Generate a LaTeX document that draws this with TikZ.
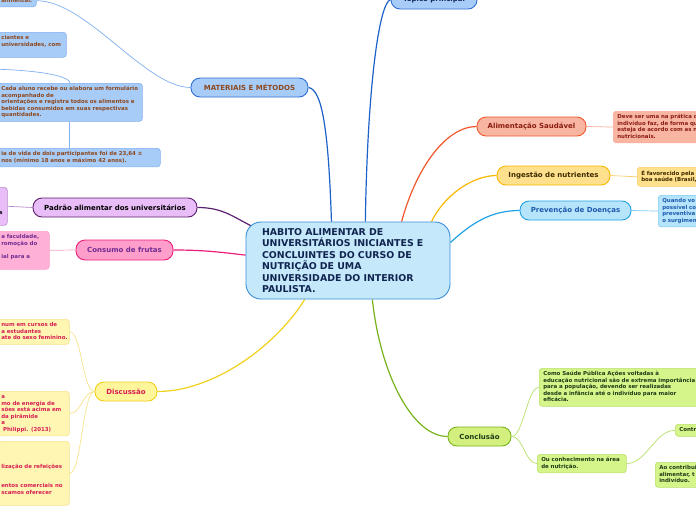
\documentclass[tikz,border=0pt]{standalone}
\usepackage{fontspec}
\setmainfont{DejaVu Sans}
\usetikzlibrary{calc,backgrounds}
% cores do mapa
\definecolor{azulF}{RGB}{168,204,248}
\definecolor{azulB}{RGB}{47,111,216}
\definecolor{azulL}{RGB}{28,98,200}
\definecolor{azulN}{RGB}{128,176,240}
\definecolor{navy}{RGB}{16,36,80}
\definecolor{marrom}{RGB}{140,72,30}
\definecolor{ceuF}{RGB}{197,232,251}
\definecolor{ceuB}{RGB}{59,142,214}
\definecolor{roxF}{RGB}{233,189,247}
\definecolor{roxB}{RGB}{93,31,114}
\definecolor{roxN}{RGB}{183,139,201}
\definecolor{rosF}{RGB}{255,158,203}
\definecolor{rosB}{RGB}{236,30,121}
\definecolor{rosC}{RGB}{255,176,214}
\definecolor{rosN}{RGB}{249,160,200}
\definecolor{rosT}{RGB}{112,44,145}
\definecolor{amaF}{RGB}{255,245,154}
\definecolor{amaB}{RGB}{240,210,28}
\definecolor{amaC}{RGB}{255,246,179}
\definecolor{amaN}{RGB}{246,228,140}
\definecolor{amaT}{RGB}{214,30,84}
\definecolor{salF}{RGB}{248,181,162}
\definecolor{salB}{RGB}{240,88,44}
\definecolor{salN}{RGB}{249,170,150}
\definecolor{salT}{RGB}{138,29,18}
\definecolor{ourF}{RGB}{255,224,140}
\definecolor{ourB}{RGB}{249,184,0}
\definecolor{ourN}{RGB}{250,205,100}
\definecolor{ourT}{RGB}{61,43,0}
\definecolor{preF}{RGB}{181,228,251}
\definecolor{preB}{RGB}{31,162,230}
\definecolor{preN}{RGB}{124,204,242}
\definecolor{preT}{RGB}{31,90,174}
\definecolor{verF}{RGB}{211,239,126}
\definecolor{verB}{RGB}{120,179,28}
\definecolor{verC}{RGB}{213,244,138}
\definecolor{verN}{RGB}{184,224,106}
\definecolor{verT}{RGB}{30,59,22}
\begin{document}
\begin{tikzpicture}[x=1pt, y=-1pt,
    topico/.style={draw, line width=0.9pt, rounded corners=9pt, minimum height=19pt,
        inner sep=0pt, font=\bfseries\fontsize{7}{8}\selectfont},
    nota/.style={draw, line width=0.6pt, rounded corners=3pt, inner xsep=4pt, inner ysep=2.75pt,
        align=left, font=\bfseries\fontsize{5.45}{6.5}\selectfont,
        execute at begin node=\strut, execute at end node=\strut},
    ramo/.style={line width=1.2pt},
    fio/.style={line width=0.7pt},
]
    \useasboundingbox (0,0) rectangle (696,520);
    \clip (0,0) rectangle (696,520);

    % Tema central
    \node[draw=ceuB, fill=ceuF, text=navy, line width=0.9pt, rounded corners=15pt,
        minimum width=204pt, minimum height=77pt, inner xsep=16pt, text width=172pt, align=left,
        font=\bfseries\fontsize{9.4}{11.4}\selectfont] (hab) at (348,260.5)
        {HABITO ALIMENTAR DE\\UNIVERSITÁRIOS INICIANTES E\\CONCLUINTES DO CURSO DE\\NUTRIÇÃO DE UMA\\UNIVERSIDADE DO INTERIOR\\PAULISTA.};

    % Tópicos principais
    \node[topico, fill=azulF, draw=azulB, text=navy, minimum width=86pt] (top) at (434,-0.5) {Tópico principal};
    \node[topico, fill=azulF, draw=azulB, text=marrom, minimum width=117pt] (mat) at (249.5,87.5) {MATERIAIS E MÉTODOS};
    \node[topico, fill=roxF, draw=roxB, text=black, minimum width=164pt] (pad) at (115,207.5) {Padrão alimentar dos universitários};
    \node[topico, fill=rosF, draw=rosB, text=rosT, minimum width=97pt, minimum height=20pt] (fru) at (124.5,250) {Consumo de frutas};
    \node[topico, fill=amaF, draw=amaB, text=amaT, minimum width=62pt] (dis) at (126,391.5) {Discussão};
    \node[topico, fill=salF, draw=salB, text=salT, minimum width=109pt] (ali) at (531.5,126.5) {Alimentação Saudável};
    \node[topico, fill=ourF, draw=ourB, text=ourT, minimum width=113pt] (ing) at (553.5,175.5) {Ingestão de nutrientes};
    \node[topico, fill=preF, draw=preB, text=preT, minimum width=111pt] (pre) at (575.5,210.5) {Prevenção de Doenças};
    \node[topico, fill=verF, draw=verB, text=verT, minimum width=63pt] (con) at (479.5,436.5) {Conclusão};

    % Notas de MATERIAIS E MÉTODOS
    \node[nota, fill=azulF, draw=azulN, text=marrom, anchor=south west, text width=31pt] (mata) at (-3,7) {alimentar.};
    \node[nota, fill=azulF, draw=azulN, text=marrom, anchor=north west, text width=61pt] (matb) at (-3,32) {ciantes e\\universidades, com\\~};
    \node[nota, fill=azulF, draw=azulN, text=marrom, anchor=north west, text width=137pt] (matc) at (-3,83)
        {Cada aluno recebe ou elabora um formulário\\acompanhado de\\orientações e registra todos os alimentos e\\bebidas consumidos em suas respectivas\\quantidades.};
    \node[nota, fill=azulF, draw=azulN, text=marrom, anchor=north west, text width=155pt] (matd) at (-3,148)
        {ia de vida de dois participantes foi de 23,64 ±\\nos (mínimo 18 anos e máximo 42 anos).};
    \coordinate (matin) at (-20,69);

    % Notas à esquerda
    \node[nota, fill=roxF, draw=roxN, text=black, anchor=north west, text width=4pt] (padc) at (-5,187) {~\\~\\~\\s\\~};
    \node[nota, fill=rosC, draw=rosN, text=rosT, anchor=north west, text width=44pt] (fruc) at (-3,231)
        {a faculdade,\\romoção do\\~\\ial para a\\~};
    \node[nota, fill=amaC, draw=amaN, text=amaT, anchor=north west, text width=64pt] (disa) at (-3,319)
        {\mbox{num em cursos de}\\\mbox{a estudantes}\\\mbox{ate do sexo feminino.}};
    \node[nota, fill=amaC, draw=amaN, text=amaT, anchor=north west, text width=64pt] (disb) at (-3,391)
        {a\\mo de energia de\\sões está acima em\\da pirâmide\\a\\~Philippi. (2013)};
    \node[nota, fill=amaC, draw=amaN, text=amaT, anchor=north west, text width=64pt] (disc) at (-3,441)
        {~\\~\\~\\lização de refeições\\~\\~\\entos comerciais no\\scamos oferecer\\~};

    % Notas à direita
    \node[nota, fill=salF, draw=salN, text=salT, anchor=north west, text width=150pt] (alic) at (613,111)
        {Deve ser uma na prática de\\indivíduo faz, de forma que\\esteja de acordo com as n\\nutricionais.};
    \node[nota, fill=ourF, draw=ourN, text=ourT, anchor=north west, text width=150pt] (ingc) at (637,167)
        {É favorecido pela\\boa saúde (Brasil,};
    \node[nota, fill=preF, draw=preN, text=preT, anchor=north west, text width=150pt] (prec) at (658,195)
        {Quando vo\\possível co\\preventiva\\o surgimen};
    \node[nota, fill=verC, draw=verN, text=verT, anchor=north west, text width=180pt] (cona) at (539,368)
        {Como Saúde Pública Ações voltadas à\\educação nutricional são de extrema importância\\para a população, devendo ser realizadas\\desde a infância até o indivíduo para maior\\eficácia.};
    \node[nota, fill=verC, draw=verN, text=verT, anchor=north west, text width=81pt] (conb) at (537,454)
        {Ou conhecimento na área\\de nutrição.};
    \node[nota, fill=verC, draw=verN, text=verT, anchor=north west, text width=80pt] (conc) at (675,424) {Contr};
    \node[nota, fill=verC, draw=verN, text=verT, anchor=north west, text width=80pt] (cond) at (655,462)
        {Ao contribui\\alimentar, t\\indivíduo.};

    \begin{scope}[on background layer]
    \fill[white] (0,0) rectangle (696,520);
    % Ramos do tema central
    \draw[ramo, azulL] (hab.66) .. controls +(2,-130) and +(-12,4) .. (top.west);
    \draw[ramo, azulL] (mat.east) .. controls +(14,2) and +(-3,-90) .. (hab.113);
    \draw[ramo, roxB] (pad.east) .. controls +(25,0) and +(-20,-10) .. ($(hab.north west)+(7,5)$);
    \draw[ramo, rosB] (fru.east) .. controls +(30,0) and +(-25,-3) .. (hab.177);
    \draw[ramo, amaB] (dis.east) .. controls +(55,0) and +(-30,48) .. (hab.222);
    \draw[ramo, salB] (hab.36.5) .. controls +(15,-55) and +(-30,0) .. (ali.west);
    \draw[ramo, ourB] (hab.25) .. controls +(12,-25) and +(-25,0) .. (ing.west);
    \draw[ramo, preB] (hab.10) .. controls +(20,-18) and +(-30,0) .. (pre.west);
    \draw[ramo, verB] (hab.302) .. controls +(8,75) and +(-35,0) .. (con.west);

    % Ligações das notas
    \draw[fio, azulN] (mat.west) .. controls +(-45,0) and +(50,0) .. (mata.east);
    \draw[fio, azulN] (matin) .. controls +(50,0) and +(0,-8) .. (matc.north);
    \draw[fio, azulN] (matc.south) -- (matc.south |- matd.north);
    \draw[fio, roxN] (pad.west) -- (padc.east);
    \draw[fio, rosN] (fru.west) -- (fruc.east);
    \foreach \n in {disa,disb,disc}
        \draw[fio, amaN] (dis.west) .. controls +(-12,0) and +(12,0) .. (\n.east);
    \draw[fio, salN] (ali.east) -- (alic.west);
    \draw[fio, ourN] (ing.east) -- (ingc.west);
    \draw[fio, preN] (pre.east) -- (prec.west);
    \foreach \n in {cona,conb}
        \draw[fio, verN] (con.east) .. controls +(12,0) and +(-12,0) .. (\n.west);
    \draw[fio, verN] (conb.east) .. controls +(20,0) and +(-20,0) .. (conc.west);
    \end{scope}
\end{tikzpicture}
\end{document}
